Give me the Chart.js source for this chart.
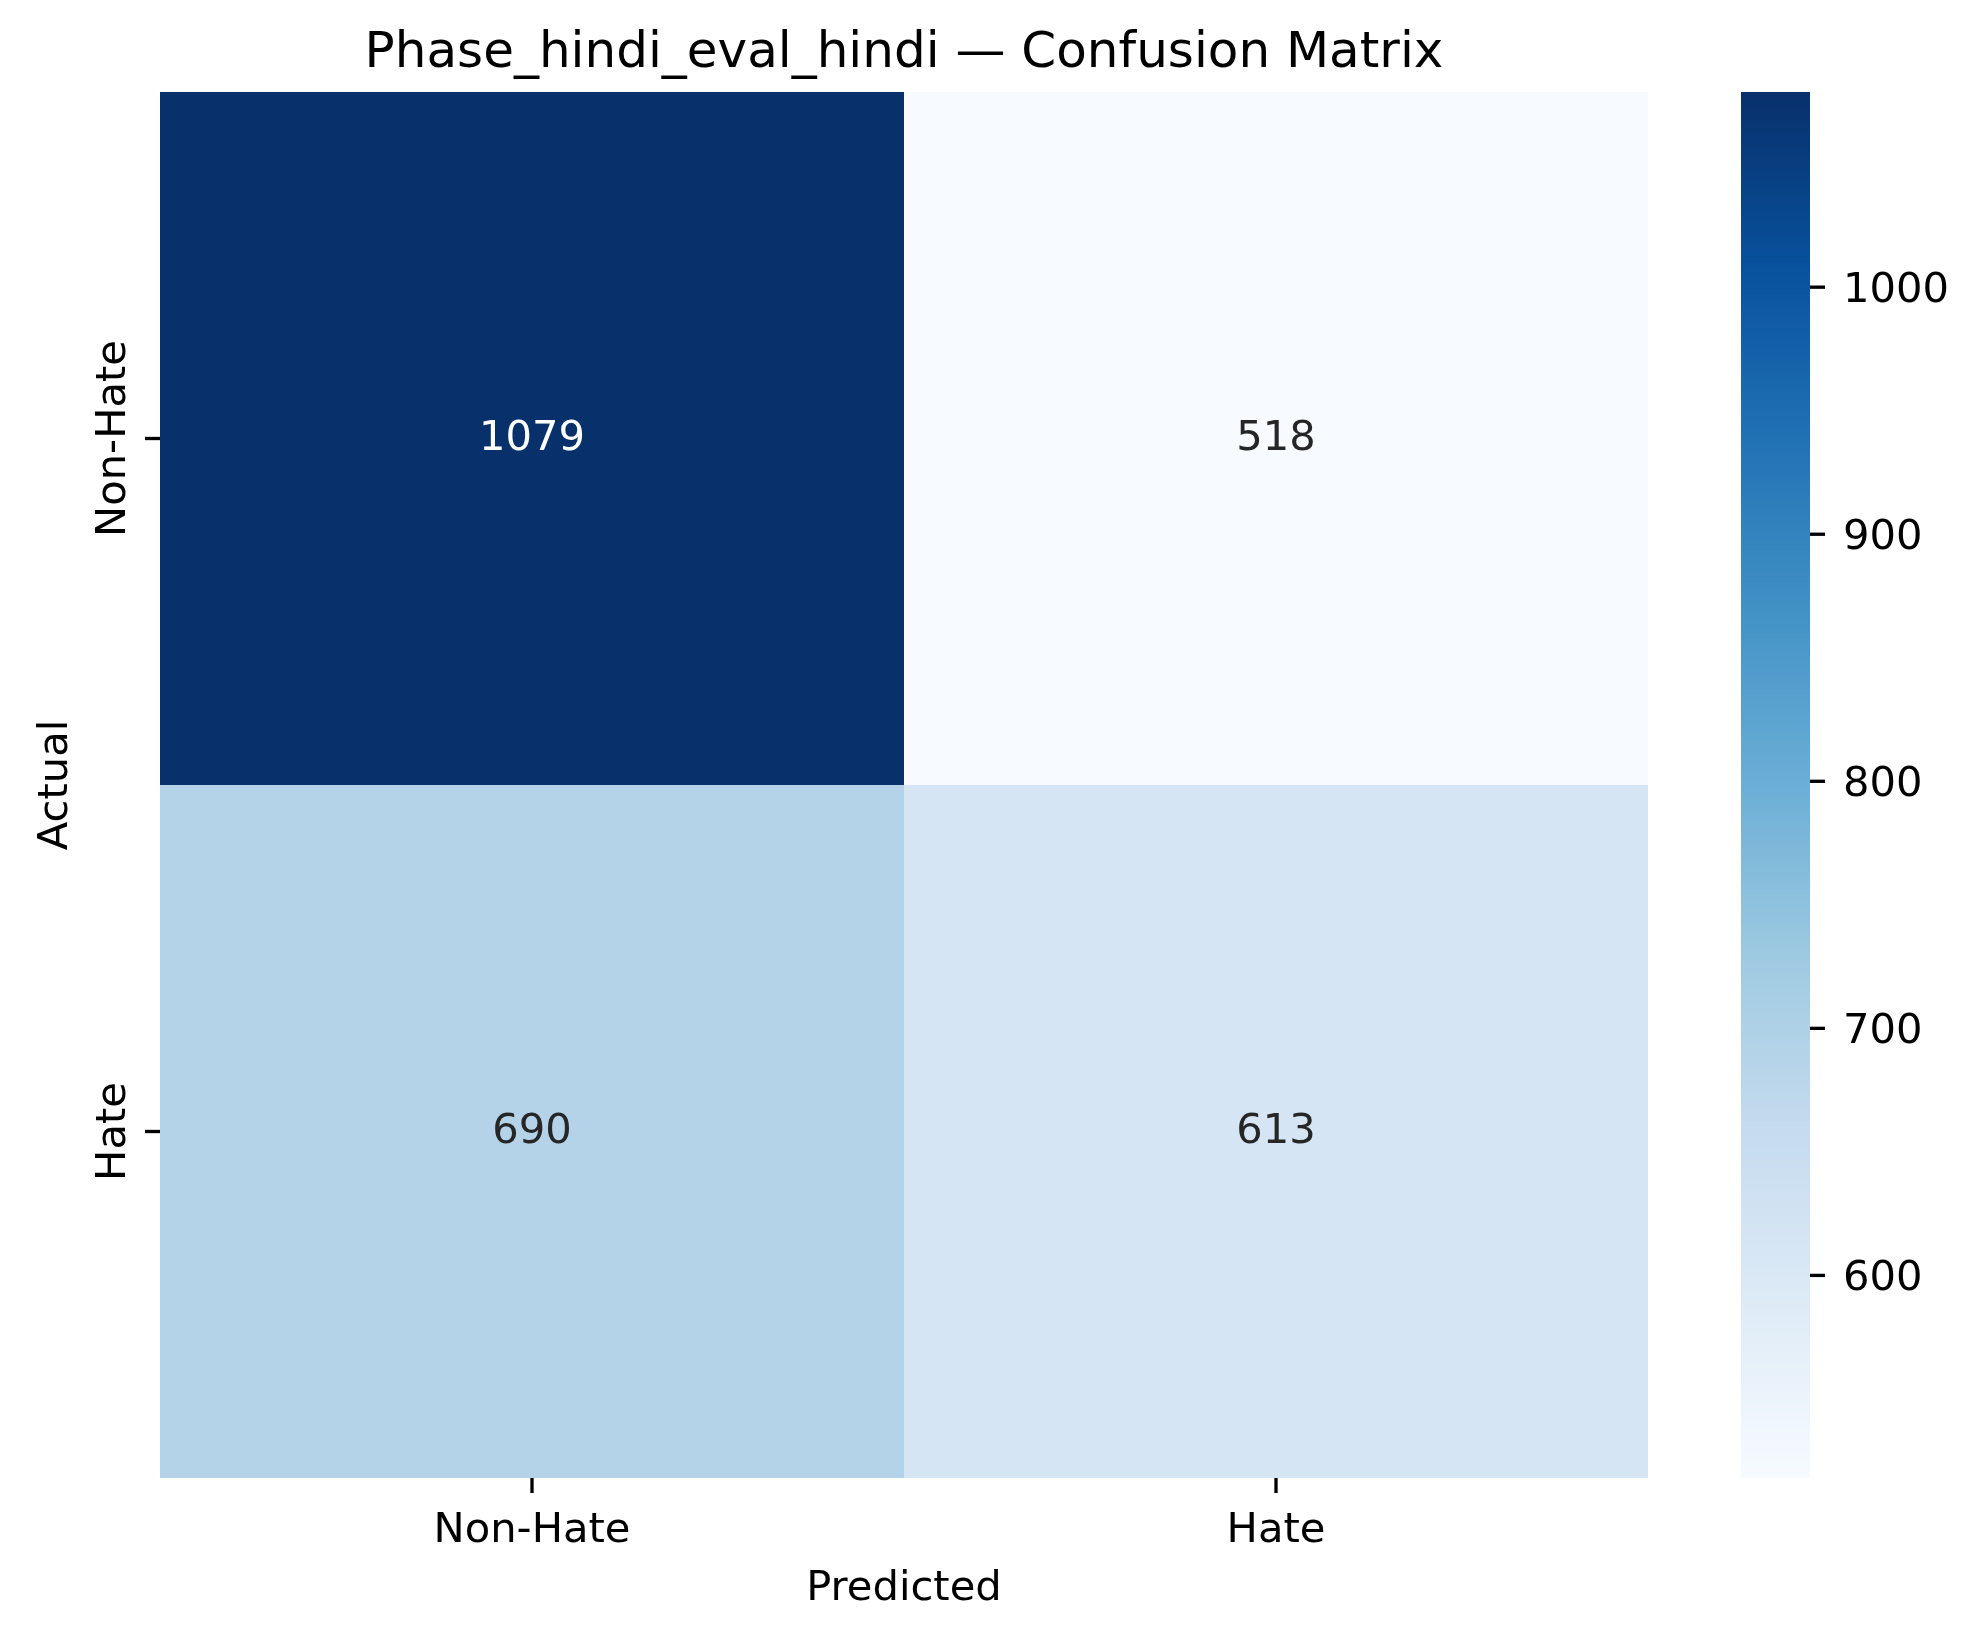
<!DOCTYPE html>
<html>
<head>
<meta charset="utf-8">
<title>Confusion Matrix</title>
<script src="https://cdn.jsdelivr.net/npm/chart.js@4.4.1/dist/chart.umd.min.js"></script>
<style>
    html, body { margin: 0; padding: 0; background: #ffffff; }
    canvas { display: block; }
</style>
</head>
<body>
<canvas id="confusionChart" width="1975" height="1638"></canvas>
<script>
const chartTitle = 'Phase_hindi_eval_hindi — Confusion Matrix';
const predictedLabels = ['Non-Hate', 'Hate'];
const actualLabels = ['Non-Hate', 'Hate'];
const actualNonHate = [1079, 518];
const actualHate = [690, 613];
const colorbarTicks = [600, 700, 800, 900, 1000];

const matrixRows = [actualNonHate, actualHate];
const vmin = Math.min(...matrixRows.flat());
const vmax = Math.max(...matrixRows.flat());

// matplotlib "Blues"
const bluesStops = ['#f7fbff', '#deebf7', '#c6dbef', '#9ecae1', '#6baed6', '#4292c6', '#2171b5', '#08519c', '#08306b'];

function hexToRgb(hex) {
    const n = parseInt(hex.slice(1), 16);
    return [(n >> 16) & 255, (n >> 8) & 255, n & 255];
}

function bluesRgb(t) {
    t = Math.max(0, Math.min(1, t));
    const s = t * (bluesStops.length - 1);
    const i = Math.min(bluesStops.length - 2, Math.floor(s));
    const f = s - i;
    const a = hexToRgb(bluesStops[i]);
    const b = hexToRgb(bluesStops[i + 1]);
    return a.map((c, k) => Math.round(c + (b[k] - c) * f));
}

function colorFor(value) {
    const rgb = bluesRgb((value - vmin) / (vmax - vmin));
    return `rgb(${rgb[0]}, ${rgb[1]}, ${rgb[2]})`;
}

// same rule seaborn uses to pick annotation colour
function textColorFor(value) {
    const lin = bluesRgb((value - vmin) / (vmax - vmin)).map(c => {
        c = c / 255;
        return c <= 0.03928 ? c / 12.92 : Math.pow((c + 0.055) / 1.055, 2.4);
    });
    const lum = 0.2126 * lin[0] + 0.7152 * lin[1] + 0.0722 * lin[2];
    return lum > 0.408 ? '#262626' : '#ffffff';
}

const FONT = '"DejaVu Sans", "Liberation Sans", sans-serif';
const labelSize = 41.67;
const titleSize = 50;
const tickLen = 15;
const tickWidth = 3.33;
const cbLeft = 1741;
const cbRight = 1810;

const decorations = {
    id: 'decorations',
    afterDatasetsDraw(chart) {
        const ctx = chart.ctx;
        const area = chart.chartArea;
        const x = chart.scales.x;
        const y = chart.scales.y;
        const cb = chart.scales.cb;

        ctx.save();

        // cell annotations
        ctx.font = `${labelSize}px ${FONT}`;
        ctx.textAlign = 'center';
        ctx.textBaseline = 'alphabetic';
        chart.data.datasets.forEach((ds, di) => {
            chart.getDatasetMeta(di).data.forEach((bar, i) => {
                const p = bar.getCenterPoint();
                const v = ds.cellValues[i];
                ctx.fillStyle = textColorFor(v);
                ctx.fillText(String(v), p.x, p.y + 11);
            });
        });

        // title
        ctx.fillStyle = '#000000';
        ctx.font = `${titleSize}px ${FONT}`;
        ctx.fillText(chartTitle, (area.left + area.right) / 2, 67);

        // x ticks and labels
        ctx.font = `${labelSize}px ${FONT}`;
        ctx.strokeStyle = '#000000';
        ctx.lineWidth = tickWidth;
        predictedLabels.forEach((label, i) => {
            const px = x.getPixelForValue(i);
            ctx.beginPath();
            ctx.moveTo(px, area.bottom);
            ctx.lineTo(px, area.bottom + tickLen);
            ctx.stroke();
            ctx.fillText(label, px, 1542);
        });
        ctx.fillText('Predicted', (area.left + area.right) / 2, 1600);

        // y ticks and rotated labels
        actualLabels.forEach((label, i) => {
            const py = y.getPixelForValue(i + 0.5);
            ctx.beginPath();
            ctx.moveTo(area.left, py);
            ctx.lineTo(area.left - tickLen, py);
            ctx.stroke();
            ctx.save();
            ctx.translate(125, py);
            ctx.rotate(-Math.PI / 2);
            ctx.fillText(label, 0, 0);
            ctx.restore();
        });
        ctx.save();
        ctx.translate(67, (area.top + area.bottom) / 2);
        ctx.rotate(-Math.PI / 2);
        ctx.fillText('Actual', 0, 0);
        ctx.restore();

        // colorbar
        for (let py = Math.floor(cb.top); py < Math.ceil(cb.bottom); py++) {
            const v = cb.getValueForPixel(py + 0.5);
            ctx.fillStyle = colorFor(v);
            ctx.fillRect(cbLeft, py, cbRight - cbLeft, 1);
        }
        ctx.fillStyle = '#000000';
        ctx.textAlign = 'left';
        colorbarTicks.forEach(t => {
            const py = cb.getPixelForValue(t);
            ctx.beginPath();
            ctx.moveTo(cbRight, py);
            ctx.lineTo(cbRight + tickLen, py);
            ctx.stroke();
            ctx.fillText(String(t), 1843, py + 15);
        });

        ctx.restore();
    }
};

const ctx = document.getElementById('confusionChart').getContext('2d');
new Chart(ctx, {
    type: 'bar',
    data: {
        labels: predictedLabels,
        datasets: matrixRows.map((values, r) => ({
            label: actualLabels[r],
            data: values.map(() => [r, r + 1]),
            cellValues: values,
            backgroundColor: values.map(colorFor),
            borderWidth: 0,
            inflateAmount: 0,
            grouped: false,
            barPercentage: 1,
            categoryPercentage: 1
        }))
    },
    options: {
        responsive: false,
        animation: false,
        devicePixelRatio: 1,
        layout: {
            padding: { left: 160, top: 92, right: 327, bottom: 160 }
        },
        scales: {
            x: { type: 'category', display: false, offset: true },
            y: { type: 'linear', display: false, min: 0, max: 2, reverse: true },
            cb: { type: 'linear', display: false, position: 'right', min: vmin, max: vmax }
        },
        plugins: {
            legend: { display: false },
            title: { display: false },
            tooltip: { enabled: false }
        }
    },
    plugins: [decorations]
});
</script>
</body>
</html>
